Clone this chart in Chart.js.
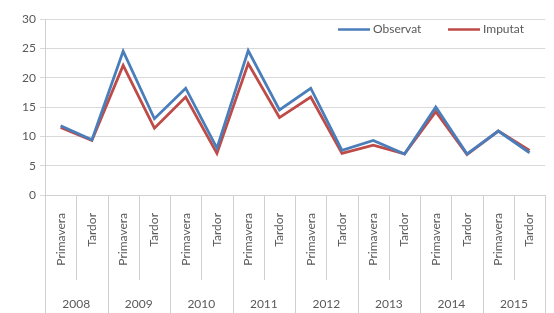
<!DOCTYPE html>
<html>
<head>
<meta charset="utf-8">
<script src="https://cdn.jsdelivr.net/npm/chart.js@4.4.1/dist/chart.umd.min.js"></script>
<style>
  html, body { margin: 0; padding: 0; background: #fff; }
  #wrap { width: 554px; height: 313px; }
</style>
</head>
<body>
<div id="wrap"><canvas id="impactChart" width="554" height="313"></canvas></div>
<script>
const years = ['2008', '2009', '2010', '2011', '2012', '2013', '2014', '2015'];
const seasons = ['Primavera', 'Tardor'];
const observat = [11.8, 9.4, 24.5, 13.0, 18.2, 8.0, 24.6, 14.5, 18.2, 7.6, 9.3, 7.0, 15.0, 7.0, 10.9, 7.2];
const imputat = [11.5, 9.3, 22.1, 11.4, 16.7, 7.1, 22.4, 13.2, 16.7, 7.1, 8.5, 7.0, 14.2, 6.9, 10.9, 7.6];
const yTicks = [0, 5, 10, 15, 20, 25, 30];

const labels = [];
years.forEach(() => seasons.forEach(s => labels.push(s)));

const textColor = '#595959';
const fontFamily = 'Lato, "Liberation Sans", sans-serif';

// year labels + separators under the category axis, and the legend inside the plot
const yearAxis = {
    id: 'yearAxis',
    afterDraw(chart) {
        const ctx = chart.ctx;
        const xs = chart.scales.x;
        const half = (xs.getPixelForValue(1) - xs.getPixelForValue(0)) / 2;
        ctx.save();
        ctx.strokeStyle = '#d0d0d0';
        ctx.lineWidth = 1;
        for (let i = 0; i <= labels.length; i++) {
            const px = Math.round(xs.getPixelForValue(Math.min(i, labels.length - 1)) + (i < labels.length ? -half : half)) + 0.5;
            const end = i % 2 === 0 ? chart.height : xs.top + 85;
            ctx.beginPath();
            ctx.moveTo(px, xs.top);
            ctx.lineTo(px, end);
            ctx.stroke();
        }
        ctx.fillStyle = textColor;
        ctx.font = '12px ' + fontFamily;
        ctx.textAlign = 'center';
        ctx.textBaseline = 'middle';
        years.forEach((y, k) => {
            const cx = xs.getPixelForValue(k * 2) + half;
            ctx.fillText(y, cx, 304);
        });

        // legend
        let lx = 338;
        const ly = 29.5;
        ctx.textAlign = 'left';
        ctx.font = '12px ' + fontFamily;
        chart.data.datasets.forEach(ds => {
            ctx.strokeStyle = ds.borderColor;
            ctx.lineWidth = 2.5;
            ctx.beginPath();
            ctx.moveTo(lx, ly);
            ctx.lineTo(lx + 32, ly);
            ctx.stroke();
            ctx.fillStyle = textColor;
            ctx.fillText(ds.label, lx + 35, ly);
            lx += 110;
        });
        ctx.restore();
    }
};

const ctx = document.getElementById('impactChart').getContext('2d');
new Chart(ctx, {
    type: 'line',
    data: {
        labels: labels,
        datasets: [
            { label: 'Observat', data: observat, borderColor: '#4a7ebb', backgroundColor: '#4a7ebb', borderWidth: 2.8, pointRadius: 0, tension: 0 },
            { label: 'Imputat', data: imputat, borderColor: '#be4b48', backgroundColor: '#be4b48', borderWidth: 2.8, pointRadius: 0, tension: 0 }
        ]
    },
    options: {
        responsive: false,
        animation: false,
        layout: { padding: { top: 19, right: 1, left: 0, bottom: 0 } },
        plugins: {
            tooltip: { enabled: false },
            legend: { display: false }
        },
        scales: {
            x: {
                offset: true,
                grid: { display: false },
                border: { color: '#d0d0d0' },
                ticks: {
                    autoSkip: false,
                    minRotation: 90,
                    maxRotation: 90,
                    padding: 10,
                    color: textColor,
                    font: { family: fontFamily, size: 12 }
                },
                afterFit(scale) { scale.height = 118; }
            },
            y: {
                min: yTicks[0],
                max: yTicks[yTicks.length - 1],
                ticks: { stepSize: 5, padding: 4, color: textColor, font: { family: fontFamily, size: 12 } },
                grid: { color: '#d9d9d9', tickLength: 5 },
                border: { color: '#d0d0d0' },
                afterFit(scale) { scale.width = 45; }
            }
        }
    },
    plugins: [yearAxis]
});
</script>
</body>
</html>
